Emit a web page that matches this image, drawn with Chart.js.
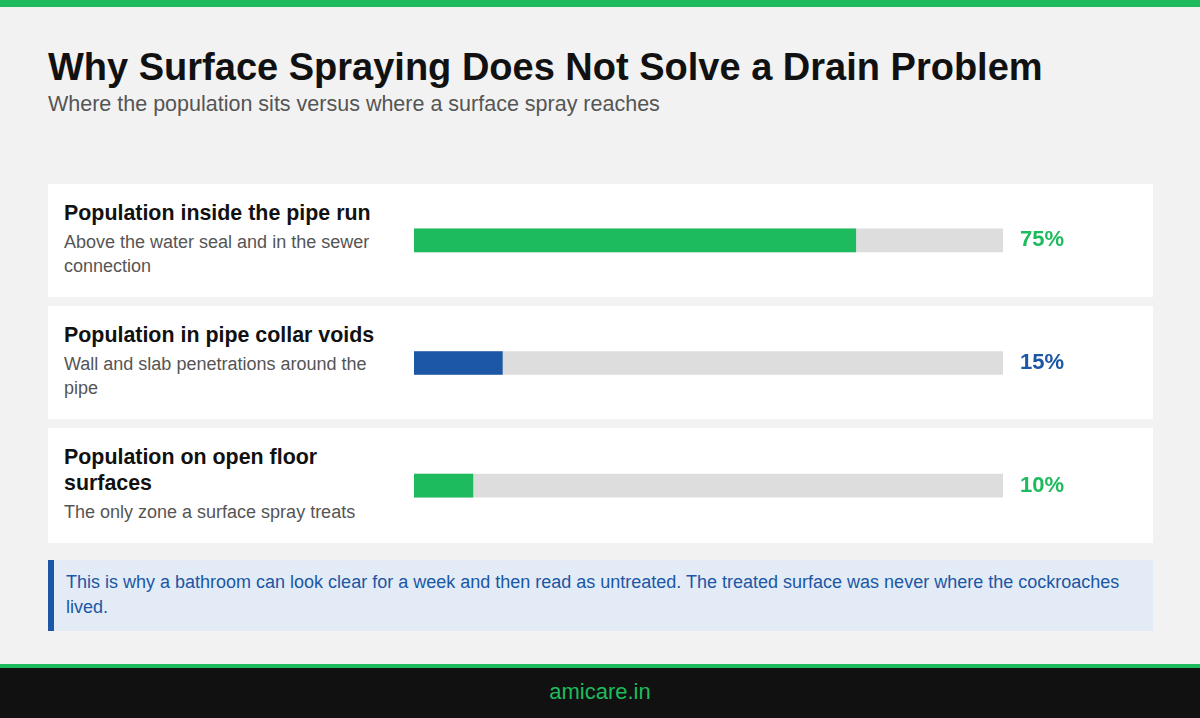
<!DOCTYPE html>
<html>
<head>
<meta charset="utf-8">
<script src="https://cdn.jsdelivr.net/npm/chart.js@4/dist/chart.umd.min.js"></script>
<style>
  html, body { margin:0; padding:0; }
  body { width:1200px; height:718px; background:#f2f2f2; position:relative; overflow:hidden; font-family:"Liberation Sans", Arial, sans-serif; }
  .topbar { position:absolute; left:0; top:0; width:1200px; height:7px; background:#1ebb5e; }
  h1 { position:absolute; left:48px; top:43px; margin:0; font-size:38px; line-height:48px; font-weight:bold; color:#111; }
  .sub { position:absolute; left:48px; top:92px; margin:0; font-size:21.5px; line-height:24px; color:#555; }
  .card { position:absolute; left:48px; width:1105px; background:#fff; box-sizing:border-box; padding:16px 16px 0 16px; }
  .card .txt { width:330px; }
  .card .h { font-size:21.4px; line-height:26px; font-weight:bold; color:#111; }
  .card .d { font-size:18px; line-height:24px; color:#555; margin-top:4px; }
  .note { position:absolute; left:48px; top:560px; width:1105px; height:71px; box-sizing:border-box; background:#e3ebf6; border-left:6px solid #1b57a5; padding:10px 18px 0 12px; font-size:18px; line-height:25px; color:#1b57a5; }
  .footline { position:absolute; left:0; top:664px; width:1200px; height:4px; background:#1ebb5e; }
  .footer { position:absolute; left:0; top:668px; width:1200px; height:50px; background:#111; color:#1ebb5e; font-size:22px; line-height:48px; text-align:center; }
  #wrap { position:absolute; left:414px; top:179px; width:739px; height:368px; }
</style>
</head>
<body>
<div class="topbar"></div>
<h1>Why Surface Spraying Does Not Solve a Drain Problem</h1>
<p class="sub">Where the population sits versus where a surface spray reaches</p>

<div class="card" style="top:184px;height:113px;"><div class="txt"><div class="h">Population inside the pipe run</div><div class="d">Above the water seal and in the sewer connection</div></div></div>
<div class="card" style="top:306px;height:113px;"><div class="txt"><div class="h">Population in pipe collar voids</div><div class="d">Wall and slab penetrations around the pipe</div></div></div>
<div class="card" style="top:428px;height:115px;"><div class="txt"><div class="h">Population on open floor surfaces</div><div class="d">The only zone a surface spray treats</div></div></div>

<div id="wrap"><canvas id="c"></canvas></div>

<div class="note">This is why a bathroom can look clear for a week and then read as untreated. The treated surface was never where the cockroaches lived.</div>
<div class="footline"></div>
<div class="footer">amicare.in</div>

<script>
const categories = ["Population inside the pipe run", "Population in pipe collar voids", "Population on open floor surfaces"];
const shares = [75, 15, 10];
const trackValues = [100, 100, 100];
const labelTexts = ["75%", "15%", "10%"];
const barColors = ["#1ebb5e", "#1b57a5", "#1ebb5e"];

const valueLabels = {
  id: 'valueLabels',
  afterDatasetsDraw(chart) {
    const ctx = chart.ctx;
    const meta = chart.getDatasetMeta(1);
    ctx.save();
    ctx.font = 'bold 22px "Liberation Sans", Arial, sans-serif';
    ctx.textBaseline = 'middle';
    ctx.textAlign = 'left';
    meta.data.forEach((bar, i) => {
      ctx.fillStyle = barColors[i];
      ctx.fillText(labelTexts[i], chart.chartArea.right + 17, bar.y);
    });
    ctx.restore();
  }
};

new Chart(document.getElementById('c'), {
  type: 'bar',
  data: {
    labels: categories,
    datasets: [
      { data: shares, backgroundColor: barColors, barThickness: 23, grouped: false, order: 0, borderWidth: 0 },
      { data: trackValues, backgroundColor: '#dddddd', barThickness: 23, grouped: false, order: 1, borderWidth: 0 }
    ]
  },
  options: {
    indexAxis: 'y',
    responsive: true,
    maintainAspectRatio: false,
    animation: false,
    layout: { padding: { left: 0, right: 150, top: 0, bottom: 0 } },
    scales: {
      x: { display: false, min: 0, max: 100 },
      y: { display: false, offset: true }
    },
    plugins: { legend: { display: false }, tooltip: { enabled: false } }
  },
  plugins: [valueLabels]
});
</script>
</body>
</html>
